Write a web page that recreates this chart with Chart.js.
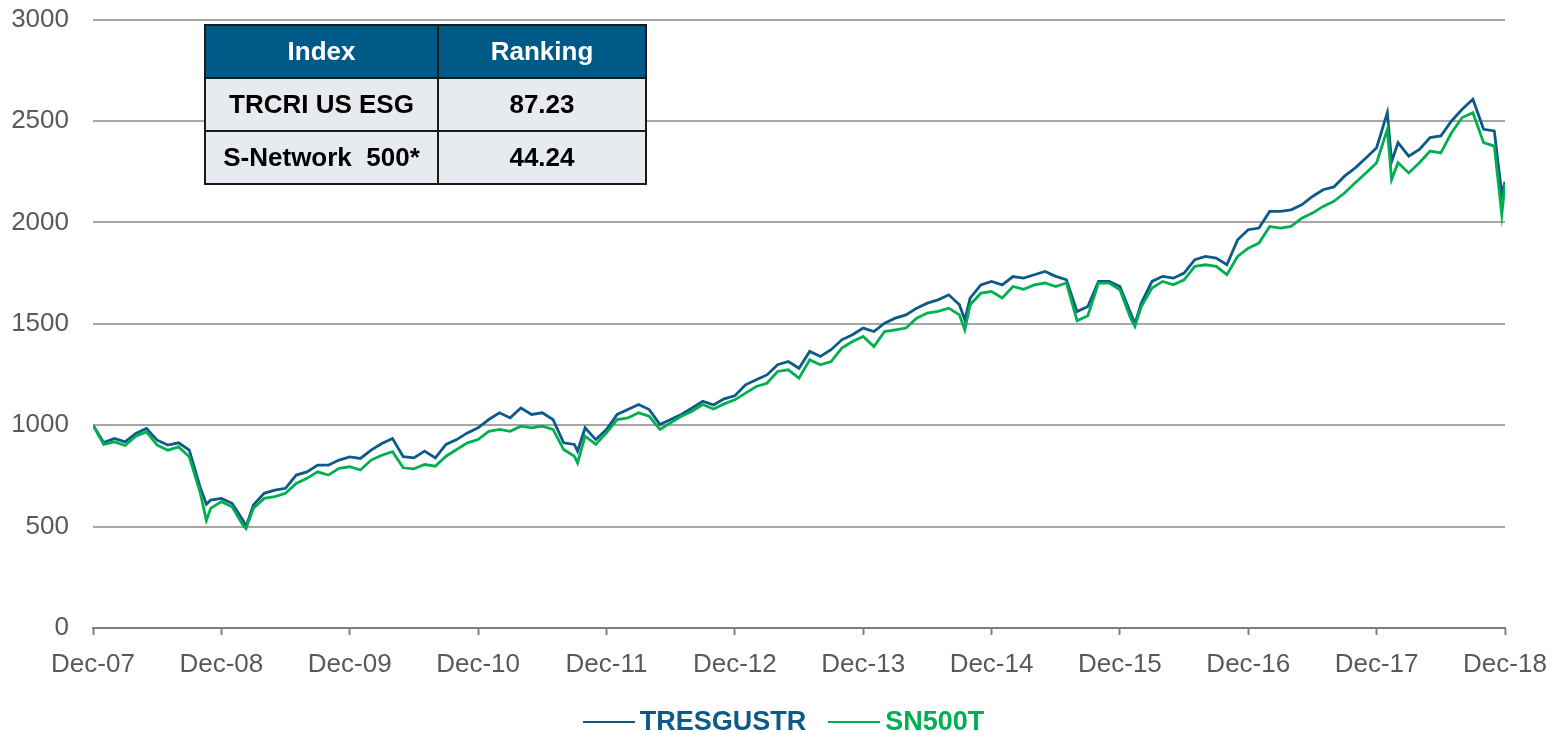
<!DOCTYPE html>
<html>
<head>
<meta charset="utf-8">
<script src="https://cdn.jsdelivr.net/npm/chart.js@4.4.1/dist/chart.umd.min.js"></script>
<style>
  body {
    margin: 0;
    background: #ffffff;
    font-family: Arial, "Liberation Sans", sans-serif;
  }
  .contenedor {
    position: relative;
    width: 1563px;
    height: 732px;
  }
  .tabla {
    position: absolute;
    left: 204px;
    top: 24px;
    border-collapse: collapse;
    font-weight: bold;
    font-size: 26px;
  }
  .tabla th, .tabla td {
    border: 2px solid #1a1a1a;
    text-align: center;
    padding: 0;
    height: 51px;
  }
  .tabla th {
    background: #005a87;
    color: #ffffff;
  }
  .tabla td {
    background: #e7eaee;
    color: #000000;
  }
  .leyenda {
    position: absolute;
    left: 0;
    top: 706px;
    width: 1563px;
    display: flex;
    justify-content: center;
    align-items: center;
    font-weight: bold;
    font-size: 27px;
    padding-left: 4px;
    box-sizing: border-box;
  }
  .item {
    display: flex;
    align-items: center;
    margin: 0 11px;
  }
  .linea {
    width: 52px;
    height: 2px;
    margin-right: 5px;
  }
</style>
</head>
<body>
<div class="contenedor">
  <canvas id="grafica"></canvas>
  <table class="tabla">
    <tr><th style="width:231px">Index</th><th style="width:206px">Ranking</th></tr>
    <tr><td>TRCRI US ESG</td><td>87.23</td></tr>
    <tr><td>S-Network&nbsp; 500*</td><td>44.24</td></tr>
  </table>
  <div class="leyenda" id="leyenda"></div>
</div>
<script>
// meses desde Dec-07 (algunos puntos extra en caidas bruscas)
const meses = [
  0, 1, 2, 3, 4, 5, 6, 7, 8, 9, 10, 10.6, 11, 12, 13, 14, 14.3, 15, 16, 17, 18, 19,
  20, 21, 22, 23, 24, 25, 26, 27, 28, 29, 30, 31, 32, 33, 34, 35, 36, 37, 38, 39,
  40, 41, 42, 43, 44, 45, 45.3, 46, 47, 48, 49, 50, 51, 52, 53, 54, 55, 56, 57, 58, 59,
  60, 61, 62, 63, 64, 65, 66, 67, 68, 69, 70, 71, 72, 73, 74, 75, 76, 77, 78, 79,
  80, 81, 81.5, 82, 83, 84, 85, 86, 87, 88, 89, 90, 91, 92, 93, 94, 95, 96, 97, 97.4, 98, 99,
  100, 101, 102, 103, 104, 105, 106, 107, 108, 109, 110, 111, 112, 113, 114, 115, 116, 117, 118, 119,
  120, 121, 121.4, 122, 123, 124, 125, 126, 127, 128, 129, 130, 131, 131.7, 132
];

const tresgustr = [
  1000, 915, 935, 918, 959, 984, 926, 902, 913, 877, 697, 610, 631, 639, 615, 533, 500, 607, 664, 680, 689, 754,
  770, 803, 803, 828, 844, 836, 877, 910, 934, 845, 839, 872, 839, 905, 929, 962, 987, 1028, 1061, 1036,
  1085, 1053, 1061, 1028, 913, 905, 872, 987, 929, 979, 1053, 1077, 1102, 1077, 1003, 1028, 1053, 1085, 1118, 1100, 1130,
  1145, 1199, 1224, 1248, 1298, 1314, 1281, 1364, 1339, 1372, 1421, 1446, 1479, 1462, 1503, 1528, 1544, 1577, 1602, 1618,
  1643, 1594, 1520, 1627, 1692, 1709, 1692, 1733, 1725, 1742, 1758, 1734, 1717, 1560, 1585, 1709, 1709, 1684, 1553, 1500, 1602, 1709,
  1734, 1725, 1750, 1816, 1832, 1824, 1791, 1914, 1964, 1972, 2054, 2054, 2062, 2087, 2128, 2161, 2175, 2228, 2269, 2318,
  2368, 2541, 2300, 2393, 2327, 2360, 2418, 2426, 2500, 2558, 2607, 2459, 2451, 2140, 2200
];

const sn500t = [
  1000, 905, 918, 900, 946, 967, 902, 877, 893, 844, 672, 530, 590, 623, 598, 508, 490, 590, 639, 648, 664, 713,
  738, 770, 754, 787, 795, 779, 828, 852, 869, 790, 785, 806, 798, 847, 880, 913, 929, 970, 979, 970,
  995, 987, 995, 979, 880, 847, 814, 946, 905, 962, 1028, 1036, 1061, 1044, 979, 1012, 1044, 1069, 1102, 1080, 1105,
  1125, 1158, 1191, 1207, 1265, 1273, 1232, 1322, 1298, 1314, 1380, 1413, 1438, 1388, 1462, 1470, 1479, 1528, 1553, 1561,
  1577, 1544, 1470, 1594, 1651, 1659, 1627, 1684, 1670, 1692, 1701, 1684, 1701, 1515, 1540, 1701, 1701, 1668, 1528, 1487, 1585, 1676,
  1709, 1692, 1717, 1783, 1791, 1783, 1742, 1832, 1873, 1898, 1980, 1972, 1980, 2021, 2046, 2079, 2104, 2145, 2195, 2244,
  2294, 2459, 2211, 2294, 2244, 2294, 2352, 2343, 2442, 2517, 2541, 2393, 2376, 2038, 2190
];

const etiquetasX = ['Dec-07', 'Dec-08', 'Dec-09', 'Dec-10', 'Dec-11', 'Dec-12',
  'Dec-13', 'Dec-14', 'Dec-15', 'Dec-16', 'Dec-17', 'Dec-18'];

const series = [
  { nombre: 'TRESGUSTR', color: '#0b5a87', datos: tresgustr, orden: 2 },
  { nombre: 'SN500T', color: '#00b050', datos: sn500t, orden: 1 }
];

const fuenteEjes = { family: 'Arial, "Liberation Sans", sans-serif', size: 26 };

let datasets = series.map(s => ({
  label: s.nombre,
  data: meses.map((m, i) => ({ x: m, y: s.datos[i] })),
  borderColor: s.color,
  borderWidth: 2.8,
  pointRadius: 0,
  tension: 0,
  fill: false,
  order: s.orden
}));

new Chart(document.getElementById('grafica'), {
  type: 'line',
  data: { datasets: datasets },
  options: {
    responsive: true,
    maintainAspectRatio: false,
    animation: false,
    layout: { padding: { left: 0, right: 58, top: 0, bottom: 0 } },
    plugins: {
      legend: { display: false },
      tooltip: { enabled: false }
    },
    scales: {
      x: {
        type: 'linear',
        min: 0,
        max: 132,
        afterFit: (scale) => { scale.height = 104; },
        border: { display: true, color: '#7f7f7f', width: 2 },
        grid: {
          drawOnChartArea: false,
          drawTicks: true,
          tickLength: 7,
          tickColor: '#7f7f7f',
          tickWidth: 2
        },
        ticks: {
          stepSize: 12,
          padding: 14,
          color: '#595959',
          font: fuenteEjes,
          maxRotation: 0,
          autoSkip: false,
          callback: (v) => etiquetasX[v / 12]
        }
      },
      y: {
        min: 0,
        max: 3000,
        afterFit: (scale) => { scale.width = 93; },
        border: { display: false },
        grid: {
          color: '#a6a6a6',
          lineWidth: 2,
          drawTicks: true,
          tickLength: 20,
          tickColor: 'rgba(0,0,0,0)'
        },
        ticks: {
          stepSize: 500,
          padding: 4,
          color: '#595959',
          font: fuenteEjes,
          callback: (v) => String(v)
        }
      }
    }
  }
});

// leyenda en html para poder colorear cada texto
let htmlLeyenda = '';
for (let s of series) {
  htmlLeyenda += `
    <div class="item">
      <div class="linea" style="background:${s.color}"></div>
      <span style="color:${s.color}">${s.nombre}</span>
    </div>`;
}
document.getElementById('leyenda').innerHTML = htmlLeyenda;
</script>
</body>
</html>
